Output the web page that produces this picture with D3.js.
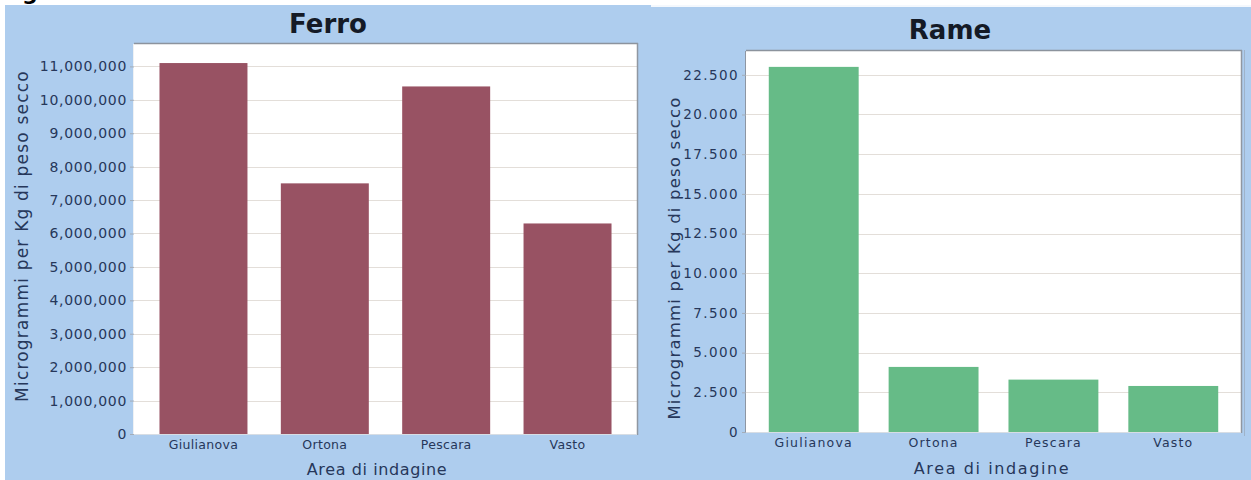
<!DOCTYPE html>
<html>
<head>
<meta charset="utf-8">
<script src="https://cdn.jsdelivr.net/npm/d3@7"></script>
<style>
  html, body { margin: 0; padding: 0; background: #ffffff; }
  svg { display: block; }
  .tick text { font-family: "DejaVu Sans", sans-serif; }
</style>
</head>
<body>
<svg id="chart" width="1251" height="480"></svg>
<script>
// Sampling areas and measured concentrations (micrograms per kg of dry weight)
const areas = ["Giulianova", "Ortona", "Pescara", "Vasto"];
const ferroValues = [11100000, 7500000, 10400000, 6300000];
const rameValues = [23000, 4100, 3300, 2900];
const ferroTicks = [0, 1000000, 2000000, 3000000, 4000000, 5000000, 6000000, 7000000, 8000000, 9000000, 10000000, 11000000];
const rameTicks = [0, 2500, 5000, 7500, 10000, 12500, 15000, 17500, 20000, 22500];
const yTitle = "Microgrammi per Kg di peso secco";
const xTitle = "Area di indagine";

const svg = d3.select("#chart");
const textColor = "#26375a";

// page background and panels
svg.append("rect").attr("x", 0).attr("y", 0).attr("width", 1251).attr("height", 480).attr("fill", "#ffffff");
svg.append("rect").attr("x", 5).attr("y", 5).attr("width", 1246).attr("height", 475).attr("fill", "#aecdee");
svg.append("rect").attr("x", 651).attr("y", 5).attr("width", 600).attr("height", 2).attr("fill", "#f4f8fd");
svg.append("line").attr("x1", 1244.5).attr("x2", 1244.5).attr("y1", 50).attr("y2", 436)
  .attr("stroke", "#9fb3c9").attr("stroke-width", 1);

// remnant of the caption line above the panels
svg.append("text").attr("x", 22).attr("y", 0)
  .attr("font-family", "DejaVu Sans, sans-serif").attr("font-weight", "bold")
  .attr("font-size", 22).attr("fill", "#000").text("g");

function drawPanel(p) {
  const g = svg.append("g");
  const x = d3.scaleBand().domain(areas).range([p.left, p.right])
    .paddingInner(p.padInner).paddingOuter(p.padOuter);
  const y = d3.scaleLinear().domain([0, p.max]).range([p.bottom, p.top]);

  // plot area
  g.append("rect").attr("x", p.left).attr("y", p.top)
    .attr("width", p.right - p.left).attr("height", p.bottom - p.top)
    .attr("fill", "#ffffff");

  // horizontal grid lines
  g.selectAll("line.grid").data(p.ticks.filter(d => d > 0)).join("line")
    .attr("class", "grid")
    .attr("x1", p.left).attr("x2", p.right)
    .attr("y1", d => Math.round(y(d)) + 0.5).attr("y2", d => Math.round(y(d)) + 0.5)
    .attr("stroke", "#e3ded9").attr("stroke-width", 1.2);

  // bars
  g.selectAll("rect.bar").data(p.values).join("rect")
    .attr("class", "bar")
    .attr("x", (d, i) => x(areas[i]))
    .attr("width", x.bandwidth())
    .attr("y", d => y(d))
    .attr("height", d => y(0) - y(d))
    .attr("fill", p.color);

  // plot border
  g.append("line").attr("x1", p.left).attr("x2", p.right + 1)
    .attr("y1", p.top - 0.5).attr("y2", p.top - 0.5)
    .attr("stroke", "#8c939d").attr("stroke-width", 1.5);
  g.append("line").attr("x1", p.right + 0.5).attr("x2", p.right + 0.5)
    .attr("y1", p.top - 1).attr("y2", p.bottom + 1)
    .attr("stroke", "#9097a1").attr("stroke-width", 1.5);
  g.append("line").attr("x1", p.left - 0.5).attr("x2", p.left - 0.5)
    .attr("y1", p.top).attr("y2", p.bottom)
    .attr("stroke", p.leftEdge).attr("stroke-width", 1);
  g.append("line").attr("x1", p.left).attr("x2", p.right)
    .attr("y1", p.bottom + 0.5).attr("y2", p.bottom + 0.5)
    .attr("stroke", "#d7dde4").attr("stroke-width", 1);

  // y axis
  const yAxis = d3.axisLeft(y).tickValues(p.ticks).tickFormat(p.format)
    .tickSize(4).tickPadding(3);
  const ya = g.append("g").attr("transform", `translate(${p.left},0)`).call(yAxis);
  ya.select(".domain").remove();
  ya.selectAll(".tick line").attr("stroke", "#a3adb9");
  ya.selectAll(".tick text").attr("fill", textColor)
    .attr("font-size", p.tickSize).attr("letter-spacing", p.tickSpacing);

  // x axis
  const xAxis = d3.axisBottom(x).tickSize(0).tickPadding(p.catPad);
  const xa = g.append("g").attr("transform", `translate(0,${p.bottom})`).call(xAxis);
  xa.select(".domain").remove();
  xa.selectAll(".tick text").attr("fill", textColor)
    .attr("font-size", p.catSize).attr("letter-spacing", p.catSpacing);

  // titles
  g.append("text").attr("x", p.titleX).attr("y", p.titleY)
    .attr("text-anchor", "middle")
    .attr("font-family", "DejaVu Sans, sans-serif").attr("font-weight", "bold")
    .attr("font-size", 26).attr("fill", "#141a26").text(p.title);

  g.append("text")
    .attr("transform", `translate(${p.yTitleX},${p.yTitleY}) rotate(-90)`)
    .attr("text-anchor", "middle")
    .attr("font-family", "DejaVu Sans, sans-serif")
    .attr("font-size", p.yTitleSize).attr("letter-spacing", p.yTitleSpacing)
    .attr("fill", textColor).text(yTitle);

  g.append("text").attr("x", p.xTitleX).attr("y", p.xTitleY)
    .attr("text-anchor", "middle")
    .attr("font-family", "DejaVu Sans, sans-serif")
    .attr("font-size", 16).attr("letter-spacing", p.xTitleSpacing)
    .attr("fill", textColor).text(xTitle);
}

drawPanel({
  title: "Ferro", values: ferroValues, ticks: ferroTicks, max: 11670000,
  format: d3.format(",d"), color: "#985263",
  left: 134, right: 637, top: 44, bottom: 434,
  padInner: 0.275, padOuter: 0.21, leftEdge: "#eef1f4",
  tickSize: 14, tickSpacing: 0.7, catSize: 12.5, catSpacing: 0.3, catPad: 6,
  titleX: 328, titleY: 33,
  yTitleX: 28, yTitleY: 236, yTitleSize: 17, yTitleSpacing: 1.2,
  xTitleX: 377, xTitleY: 475, xTitleSpacing: 0.6
});

drawPanel({
  title: "Rame", values: rameValues, ticks: rameTicks, max: 24000,
  format: d => d3.format(",d")(d).replace(/,/g, "."), color: "#66bb87",
  left: 746, right: 1241, top: 51, bottom: 432,
  padInner: 0.25, padOuter: 0.19, leftEdge: "#8e96a2",
  tickSize: 13.5, tickSpacing: 1.4, catSize: 12.5, catSpacing: 1.2, catPad: 6,
  titleX: 950, titleY: 39,
  yTitleX: 680, yTitleY: 258, yTitleSize: 16.5, yTitleSpacing: 1.2,
  xTitleX: 992, xTitleY: 474, xTitleSpacing: 1.6
});
</script>
</body>
</html>
